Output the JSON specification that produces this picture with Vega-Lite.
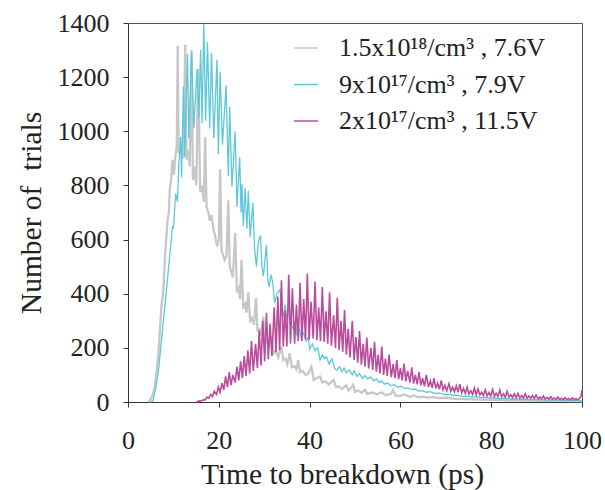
{
"$schema": "https://vega.github.io/schema/vega-lite/v6.json",
"width": 454, "height": 379,
"autosize": {"type": "none"},
"padding": {"left": 128, "top": 23, "right": 23, "bottom": 88},
"background": "white",
"config": {
 "view": {"stroke": "#555", "strokeWidth": 1},
 "font": "Liberation Serif",
 "axis": {"domainColor": "#333", "tickColor": "#333", "tickSize": 5, "labelFont": "Liberation Serif", "labelFontSize": 26, "labelColor": "#222", "titleFont": "Liberation Serif", "titleFontSize": 29.5, "titleFontWeight": "normal", "titleColor": "#222", "grid": false, "labelOverlap": false, "format": "d"}
},
"datasets": {
"gray": [
{"t":4.6,"n":0},{"t":4.9,"n":7},{"t":5.4,"n":25},{"t":5.9,"n":55},{"t":6.3,"n":110},{"t":6.7,"n":180},{"t":7.1,"n":280},{"t":7.4,"n":365},{"t":7.6,"n":380},{"t":7.8,"n":420},{"t":8.2,"n":550},{"t":8.7,"n":670},{"t":9.0,"n":700},{"t":9.2,"n":785},{"t":9.5,"n":820},{"t":9.7,"n":880},{"t":9.9,"n":895},{"t":10.1,"n":840},{"t":10.4,"n":900},{"t":10.75,"n":950},{"t":10.95,"n":1315},{"t":11.15,"n":920},{"t":11.7,"n":940},{"t":12.1,"n":900},{"t":12.3,"n":960},{"t":12.6,"n":1320},{"t":12.9,"n":895},{"t":13.3,"n":930},{"t":13.6,"n":870},{"t":14.0,"n":1300},{"t":14.3,"n":820},{"t":14.7,"n":870},{"t":15.05,"n":800},{"t":15.45,"n":1230},{"t":15.9,"n":775},{"t":16.3,"n":800},{"t":16.7,"n":740},{"t":17.0,"n":980},{"t":17.3,"n":720},{"t":17.7,"n":700},{"t":18.0,"n":670},{"t":18.4,"n":690},{"t":18.8,"n":640},{"t":19.1,"n":620},{"t":19.6,"n":575},{"t":20.0,"n":600},{"t":20.3,"n":860},{"t":20.6,"n":560},{"t":21.0,"n":540},{"t":21.3,"n":525},{"t":21.7,"n":540},{"t":22.1,"n":745},{"t":22.4,"n":500},{"t":22.8,"n":480},{"t":23.1,"n":460},{"t":23.6,"n":625},{"t":24.0,"n":405},{"t":24.4,"n":420},{"t":24.7,"n":380},{"t":25.0,"n":525},{"t":25.4,"n":345},{"t":25.8,"n":360},{"t":26.1,"n":330},{"t":26.5,"n":405},{"t":26.9,"n":300},{"t":27.3,"n":310},{"t":27.75,"n":285},{"t":28.2,"n":385},{"t":28.5,"n":265},{"t":28.9,"n":270},{"t":29.3,"n":245},{"t":29.8,"n":315},{"t":30.2,"n":220},{"t":30.6,"n":230},{"t":31.0,"n":205},{"t":31.6,"n":240},{"t":32.1,"n":180},{"t":32.6,"n":190},{"t":33.1,"n":165},{"t":33.8,"n":205},{"t":34.2,"n":155},{"t":34.7,"n":160},{"t":35.1,"n":140},{"t":35.6,"n":180},{"t":36.1,"n":128},{"t":36.7,"n":132},{"t":37.1,"n":120},{"t":37.5,"n":155},{"t":37.9,"n":110},{"t":38.5,"n":115},{"t":39.1,"n":100},{"t":39.7,"n":105},{"t":40.4,"n":130},{"t":40.9,"n":82},{"t":41.5,"n":88},{"t":42.3,"n":95},{"t":42.8,"n":72},{"t":43.5,"n":76},{"t":44.2,"n":65},{"t":45.3,"n":82},{"t":45.8,"n":55},{"t":46.4,"n":58},{"t":47.1,"n":48},{"t":48.1,"n":62},{"t":48.6,"n":42},{"t":49.6,"n":63},{"t":50.0,"n":38},{"t":50.7,"n":42},{"t":51.4,"n":34},{"t":52.2,"n":45},{"t":52.7,"n":30},{"t":53.8,"n":35},{"t":54.8,"n":28},{"t":55.8,"n":36},{"t":56.8,"n":25},{"t":57.9,"n":30},{"t":58.4,"n":44},{"t":58.9,"n":24},{"t":59.9,"n":22},{"t":60.9,"n":28},{"t":62.0,"n":19},{"t":63.0,"n":24},{"t":64.0,"n":17},{"t":65.0,"n":20},{"t":66.0,"n":16},{"t":67.1,"n":18},{"t":68.6,"n":14},{"t":70.1,"n":16},{"t":71.7,"n":12},{"t":73.7,"n":11},{"t":75.8,"n":10},{"t":77.8,"n":9},{"t":79.9,"n":8},{"t":81.9,"n":7},{"t":85.0,"n":6},{"t":88.0,"n":5},{"t":92.0,"n":4},{"t":96.0,"n":4},{"t":99.0,"n":3},{"t":100,"n":3}
],
"cyan": [
{"t":5.1,"n":0},{"t":5.5,"n":5},{"t":6.1,"n":50},{"t":6.7,"n":115},{"t":7.2,"n":200},{"t":7.8,"n":300},{"t":8.4,"n":400},{"t":8.9,"n":490},{"t":9.3,"n":560},{"t":9.6,"n":610},{"t":9.8,"n":650},{"t":10.0,"n":640},{"t":10.5,"n":770},{"t":10.9,"n":740},{"t":11.2,"n":880},{"t":11.6,"n":980},{"t":11.8,"n":830},{"t":12.2,"n":1165},{"t":12.5,"n":905},{"t":13.1,"n":1285},{"t":13.4,"n":975},{"t":14.0,"n":1290},{"t":14.5,"n":1010},{"t":15.2,"n":1230},{"t":15.6,"n":1050},{"t":16.0,"n":1300},{"t":16.3,"n":1030},{"t":16.7,"n":1395},{"t":17.1,"n":1040},{"t":17.5,"n":1330},{"t":18.0,"n":1010},{"t":18.4,"n":1290},{"t":18.9,"n":975},{"t":19.6,"n":1265},{"t":19.9,"n":915},{"t":20.3,"n":1220},{"t":20.8,"n":950},{"t":21.6,"n":1170},{"t":22.1,"n":835},{"t":22.4,"n":1090},{"t":22.9,"n":795},{"t":23.6,"n":1000},{"t":24.0,"n":720},{"t":24.6,"n":905},{"t":24.9,"n":700},{"t":25.1,"n":805},{"t":25.4,"n":650},{"t":25.8,"n":790},{"t":26.2,"n":640},{"t":26.5,"n":780},{"t":26.9,"n":610},{"t":27.5,"n":735},{"t":27.9,"n":560},{"t":28.3,"n":500},{"t":28.7,"n":590},{"t":29.2,"n":615},{"t":29.5,"n":500},{"t":29.8,"n":465},{"t":30.5,"n":580},{"t":30.8,"n":450},{"t":31.1,"n":425},{"t":31.5,"n":470},{"t":31.9,"n":440},{"t":32.3,"n":365},{"t":32.8,"n":400},{"t":33.5,"n":415},{"t":33.8,"n":340},{"t":34.2,"n":315},{"t":34.6,"n":360},{"t":35.0,"n":300},{"t":35.3,"n":350},{"t":35.8,"n":290},{"t":36.4,"n":270},{"t":36.9,"n":300},{"t":37.2,"n":245},{"t":37.7,"n":270},{"t":38.1,"n":240},{"t":38.7,"n":255},{"t":39.2,"n":225},{"t":39.7,"n":240},{"t":40.0,"n":195},{"t":40.6,"n":215},{"t":41.2,"n":190},{"t":41.8,"n":200},{"t":42.3,"n":155},{"t":42.8,"n":175},{"t":43.3,"n":160},{"t":43.7,"n":168},{"t":44.3,"n":140},{"t":44.9,"n":160},{"t":45.5,"n":125},{"t":46.0,"n":118},{"t":46.6,"n":130},{"t":47.1,"n":112},{"t":47.6,"n":125},{"t":48.1,"n":108},{"t":48.7,"n":118},{"t":49.4,"n":100},{"t":49.8,"n":115},{"t":50.4,"n":95},{"t":51.0,"n":105},{"t":51.6,"n":88},{"t":52.2,"n":98},{"t":52.8,"n":85},{"t":53.5,"n":92},{"t":54.1,"n":78},{"t":54.7,"n":85},{"t":55.3,"n":72},{"t":55.9,"n":78},{"t":56.5,"n":66},{"t":57.1,"n":70},{"t":57.9,"n":60},{"t":58.6,"n":64},{"t":59.4,"n":55},{"t":60.2,"n":58},{"t":60.9,"n":50},{"t":61.6,"n":52},{"t":62.5,"n":46},{"t":63.3,"n":48},{"t":64.1,"n":40},{"t":64.9,"n":42},{"t":65.7,"n":36},{"t":66.6,"n":38},{"t":67.6,"n":32},{"t":68.6,"n":33},{"t":69.6,"n":28},{"t":70.7,"n":28},{"t":71.7,"n":24},{"t":72.7,"n":25},{"t":73.7,"n":20},{"t":74.8,"n":22},{"t":75.8,"n":18},{"t":76.8,"n":20},{"t":77.8,"n":16},{"t":78.8,"n":17},{"t":79.9,"n":14},{"t":80.9,"n":15},{"t":81.9,"n":12},{"t":82.9,"n":14},{"t":84.0,"n":11},{"t":85.0,"n":12},{"t":86.0,"n":10},{"t":87.0,"n":11},{"t":88.1,"n":9},{"t":89.1,"n":10},{"t":90.1,"n":8},{"t":91.1,"n":10},{"t":92.2,"n":7},{"t":93.2,"n":9},{"t":94.2,"n":7},{"t":95.2,"n":8},{"t":96.3,"n":6},{"t":97.3,"n":7},{"t":98.3,"n":6},{"t":99.3,"n":6},{"t":100,"n":5}
],
"mag": [
{"t":15.0,"n":0},{"t":15.4,"n":2},{"t":15.8,"n":4},{"t":16.2,"n":4},{"t":16.6,"n":8},{"t":17.0,"n":8},{"t":17.4,"n":18},{"t":17.8,"n":14},{"t":18.2,"n":28},{"t":18.6,"n":20},{"t":19.0,"n":40},{"t":19.5,"n":28},{"t":19.9,"n":55},{"t":20.3,"n":36},{"t":20.7,"n":70},{"t":21.1,"n":45},{"t":21.5,"n":95},{"t":21.9,"n":55},{"t":22.3,"n":110},{"t":22.7,"n":62},{"t":23.1,"n":100},{"t":23.6,"n":72},{"t":24.0,"n":130},{"t":24.4,"n":80},{"t":24.8,"n":150},{"t":25.2,"n":88},{"t":25.6,"n":170},{"t":26.0,"n":96},{"t":26.4,"n":190},{"t":26.8,"n":105},{"t":27.2,"n":225},{"t":27.6,"n":115},{"t":28.1,"n":215},{"t":28.5,"n":125},{"t":28.9,"n":265},{"t":29.3,"n":135},{"t":29.7,"n":300},{"t":30.1,"n":150},{"t":30.5,"n":330},{"t":30.9,"n":158},{"t":31.3,"n":290},{"t":31.7,"n":170},{"t":32.2,"n":350},{"t":32.6,"n":185},{"t":33.0,"n":390},{"t":33.4,"n":190},{"t":33.8,"n":450},{"t":34.2,"n":205},{"t":34.6,"n":340},{"t":35.0,"n":205},{"t":35.4,"n":470},{"t":35.8,"n":215},{"t":36.2,"n":420},{"t":36.7,"n":215},{"t":37.1,"n":360},{"t":37.5,"n":225},{"t":37.9,"n":440},{"t":38.3,"n":225},{"t":38.7,"n":380},{"t":39.1,"n":232},{"t":39.5,"n":475},{"t":39.9,"n":230},{"t":40.3,"n":370},{"t":40.8,"n":235},{"t":41.2,"n":445},{"t":41.6,"n":228},{"t":42.0,"n":350},{"t":42.4,"n":225},{"t":42.8,"n":425},{"t":43.2,"n":222},{"t":43.6,"n":335},{"t":44.0,"n":215},{"t":44.4,"n":405},{"t":44.8,"n":208},{"t":45.3,"n":320},{"t":45.7,"n":200},{"t":46.1,"n":385},{"t":46.5,"n":192},{"t":46.9,"n":300},{"t":47.3,"n":185},{"t":47.7,"n":340},{"t":48.1,"n":175},{"t":48.5,"n":270},{"t":48.9,"n":165},{"t":49.4,"n":300},{"t":49.8,"n":155},{"t":50.2,"n":240},{"t":50.6,"n":145},{"t":51.0,"n":262},{"t":51.4,"n":138},{"t":51.8,"n":215},{"t":52.2,"n":130},{"t":52.6,"n":238},{"t":53.0,"n":124},{"t":53.5,"n":200},{"t":53.9,"n":118},{"t":54.3,"n":222},{"t":54.7,"n":112},{"t":55.1,"n":175},{"t":55.5,"n":106},{"t":55.9,"n":205},{"t":56.3,"n":100},{"t":56.7,"n":160},{"t":57.1,"n":96},{"t":57.5,"n":175},{"t":58.0,"n":92},{"t":58.4,"n":140},{"t":58.8,"n":88},{"t":59.2,"n":155},{"t":59.6,"n":84},{"t":60.0,"n":125},{"t":60.4,"n":80},{"t":60.8,"n":142},{"t":61.2,"n":76},{"t":61.6,"n":115},{"t":62.1,"n":72},{"t":62.5,"n":128},{"t":62.9,"n":68},{"t":63.3,"n":100},{"t":63.7,"n":65},{"t":64.1,"n":110},{"t":64.5,"n":62},{"t":64.9,"n":88},{"t":65.3,"n":58},{"t":65.7,"n":100},{"t":66.2,"n":55},{"t":66.6,"n":78},{"t":67.0,"n":52},{"t":67.4,"n":88},{"t":67.8,"n":50},{"t":68.2,"n":70},{"t":68.6,"n":47},{"t":69.0,"n":80},{"t":69.4,"n":45},{"t":69.8,"n":62},{"t":70.2,"n":42},{"t":70.7,"n":68},{"t":71.1,"n":40},{"t":71.5,"n":55},{"t":71.9,"n":38},{"t":72.3,"n":60},{"t":72.7,"n":36},{"t":73.1,"n":66},{"t":73.5,"n":34},{"t":73.9,"n":50},{"t":74.3,"n":32},{"t":74.7,"n":55},{"t":75.1,"n":30},{"t":75.5,"n":42},{"t":75.9,"n":28},{"t":76.3,"n":52},{"t":76.7,"n":27},{"t":77.1,"n":48},{"t":77.5,"n":26},{"t":77.9,"n":36},{"t":78.3,"n":24},{"t":78.7,"n":45},{"t":79.1,"n":23},{"t":79.5,"n":35},{"t":79.9,"n":22},{"t":80.3,"n":46},{"t":80.7,"n":21},{"t":81.1,"n":33},{"t":81.5,"n":20},{"t":81.9,"n":44},{"t":82.3,"n":19},{"t":82.7,"n":30},{"t":83.1,"n":18},{"t":83.5,"n":40},{"t":83.9,"n":18},{"t":84.3,"n":27},{"t":84.7,"n":17},{"t":85.1,"n":30},{"t":85.5,"n":16},{"t":85.9,"n":32},{"t":86.3,"n":15},{"t":86.7,"n":24},{"t":87.1,"n":15},{"t":87.5,"n":30},{"t":87.9,"n":14},{"t":88.3,"n":22},{"t":88.7,"n":14},{"t":89.1,"n":24},{"t":89.5,"n":13},{"t":89.9,"n":26},{"t":90.3,"n":12},{"t":90.7,"n":18},{"t":91.1,"n":12},{"t":91.5,"n":22},{"t":91.9,"n":11},{"t":92.3,"n":17},{"t":92.7,"n":11},{"t":93.1,"n":20},{"t":93.5,"n":10},{"t":93.9,"n":15},{"t":94.3,"n":10},{"t":94.7,"n":18},{"t":95.1,"n":9},{"t":95.5,"n":14},{"t":95.9,"n":9},{"t":96.3,"n":16},{"t":96.7,"n":9},{"t":97.1,"n":13},{"t":97.5,"n":8},{"t":97.9,"n":15},{"t":98.3,"n":8},{"t":98.7,"n":12},{"t":99.1,"n":8},{"t":99.5,"n":14},{"t":99.8,"n":22},{"t":100,"n":44}
]
},
"encoding": {
 "x": {"field": "t", "type": "quantitative", "scale": {"domain": [0, 100], "nice": false},
   "axis": {"values": [0, 20, 40, 60, 80, 100], "labelPadding": 20, "titlePadding": 7, "titleX": 214, "title": "Time to breakdown (ps)", "labelFlush": false}},
 "y": {"field": "n", "type": "quantitative", "scale": {"domain": [0, 1400], "nice": false},
   "axis": {"values": [0, 200, 400, 600, 800, 1000, 1200, 1400], "labelPadding": 14, "titlePadding": 11, "title": "Number of \u00a0trials"}}
},
"layer": [
 {"data": {"name": "gray"}, "mark": {"type": "line", "strokeWidth": 2.3, "interpolate": "linear"},
  "encoding": {"color": {"datum": "1.5x10¹⁸/cm³ , 7.6V", "type": "nominal",
    "scale": {"domain": ["1.5x10¹⁸/cm³ , 7.6V", "9x10¹⁷/cm³ , 7.9V", "2x10¹⁷/cm³ , 11.5V"], "range": ["#c6c7c9", "#5cc8d9", "#bb4c9c"]},
    "legend": {"title": null, "orient": "none", "legendX": 165, "legendY": 12, "symbolType": "stroke", "symbolSize": 576, "symbolStrokeWidth": 1.5, "labelFont": "Liberation Serif", "labelFontSize": 26, "labelColor": "#222", "labelOffset": 20, "rowPadding": 10.5, "padding": 0, "labelLimit": 400}}}},
 {"data": {"name": "cyan"}, "mark": {"type": "line", "strokeWidth": 1.3},
  "encoding": {"color": {"datum": "9x10¹⁷/cm³ , 7.9V", "type": "nominal"}}},
 {"data": {"name": "mag"}, "mark": {"type": "line", "strokeWidth": 1.6},
  "encoding": {"color": {"datum": "2x10¹⁷/cm³ , 11.5V", "type": "nominal"}}}
]
}
